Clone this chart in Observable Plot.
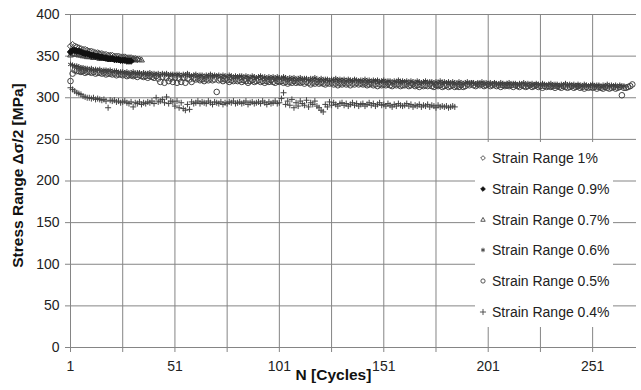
<!DOCTYPE html>
<html>
<head>
<meta charset="utf-8">
<script src="https://cdn.jsdelivr.net/npm/d3@7"></script>
<script src="https://cdn.jsdelivr.net/npm/@observablehq/plot@0.6"></script>
<style>
  html, body { margin: 0; padding: 0; background: #fff; }
  #wrap { position: relative; width: 641px; height: 390px; font-family: "Liberation Sans", Arial, sans-serif; }
  #legend { position: absolute; left: 475px; top: 142px; width: 138px; height: 185px; background: #fff; }
  #legend .row { position: absolute; left: 0; height: 20px; display: flex; align-items: center; font-size: 14px; color: #222; white-space: nowrap; }
  #legend svg { width: 10px; height: 10px; margin-left: 3px; margin-right: 4px; overflow: visible; }
</style>
</head>
<body>
<div id="wrap"><div id="legend"></div></div>
<script>
// Series names (legend labels)
const seriesNames = ["Strain Range 1%", "Strain Range 0.9%", "Strain Range 0.7%", "Strain Range 0.6%", "Strain Range 0.5%", "Strain Range 0.4%"];

// Stress range values per cycle N = 1, 2, 3, ... (MPa)
const s1 = [362,364,362,361,360,359,358,358,357,356,356,355,354,354,353,353,352,352,351,351,351,350,350,350,349,349,349,348,348,348,347,347,346];

const s09 = [355,357,357,356,356,355,354,353,353,352,351,351,350,350,349,349,348,348,347,347,347,346,346,346,345,345,345,344,344,344];

const s07 = [351,353,352,352,351,351,350,350,349,349,349,348,348,348,347,347,347,347,346,346,346,346,346,345,345,345,345,345,345,345,346,345,346,346,345];

const s06 = [
340,339,338,338,337,336,336,335,335,334,
335,333,334,333,334,332,333,333,332,333,
331,332,332,330,331,331,330,331,329,330,
331,329,330,330,328,330,329,329,330,328,
329,328,329,327,329,328,329,327,328,328,
327,328,328,326,328,327,329,327,326,327,
328,326,327,327,325,327,326,328,326,327,
326,327,325,327,326,325,327,326,324,326,
325,326,326,324,326,325,324,326,325,324,
325,326,324,325,323,325,324,325,323,325,
324,323,325,324,322,324,323,324,322,323,
324,322,323,323,321,323,322,324,322,321,
323,321,322,322,320,322,321,323,321,322,
321,322,320,322,321,320,322,321,320,321,
320,322,320,321,319,321,320,321,319,320,
321,319,320,320,318,320,319,321,319,320,
319,320,318,320,319,318,320,319,318,319,
320,318,319,319,317,319,318,320,318,319,
318,319,317,319,318,317,319,318,317,318,
319,317,318,318,316,318,317,319,317,318,
317,318,316,318,317,316,318,317,316,317,
318,316,317,317,315,317,316,318,316,317,
316,317,315,317,316,315,317,316,315,316,
317,315,316,316,314,316,315,317,315,316,
315,316,314,316,315,314,316,315,314,315,
316,314,315,315,313,315,314,316,314,315,
314,315,313,315,314,314];

const s05 = [
320,329,333,332,332,331,332,330,331,331,
330,331,329,330,330,329,330,328,329,329,
328,329,327,328,328,327,328,326,327,327,
326,327,325,327,326,325,326,324,326,325,
324,326,323,319,325,318,324,320,323,319,
324,318,323,319,324,318,323,322,319,323,
322,323,321,322,320,322,321,323,321,322,
307,321,322,320,322,321,319,321,320,322,
320,321,319,321,320,318,320,321,319,320,
321,319,320,318,320,319,321,319,318,320,
319,320,318,319,317,319,318,320,318,319,
318,319,317,319,318,316,318,317,319,317,
318,317,316,318,317,318,316,317,315,317,
316,318,316,317,315,317,316,318,316,317,
316,317,315,316,317,315,316,314,316,315,
316,315,317,315,314,316,315,316,314,315,
315,316,314,315,316,314,315,313,315,314,
315,314,316,314,313,315,314,315,313,314,
315,313,314,315,313,314,313,315,313,314,
316,315,317,315,314,316,315,316,314,315,
316,314,315,316,314,315,313,315,314,315,
314,315,313,315,314,313,315,314,313,314,
315,313,314,315,313,314,312,314,313,314,
313,314,312,314,313,312,314,313,312,313,
314,312,313,314,312,313,311,313,312,313,
312,313,311,313,312,311,313,312,311,312,
313,311,312,313,303,312,312,313,314,316];

const s04 = [
312,310,308,306,305,304,302,301,300,300,
299,300,298,299,298,297,298,296,288,297,
296,297,295,296,294,295,296,294,293,295,
289,294,293,295,292,294,293,295,294,296,
293,300,295,296,298,294,301,293,296,295,
290,296,288,294,287,285,292,286,295,293,
294,296,293,295,294,293,296,294,292,295,
294,293,295,292,294,293,295,294,296,293,
294,295,293,294,296,292,294,295,293,294,
295,293,296,294,292,295,293,294,296,293,
294,299,306,292,296,291,298,288,294,290,
296,293,291,297,289,294,292,296,290,288,
285,283,292,289,295,291,294,292,290,293,
294,291,293,290,292,294,291,293,290,292,
293,290,292,294,291,293,290,292,294,291,
292,290,293,291,289,292,290,293,291,290,
291,293,290,292,289,291,290,292,289,291,
290,292,289,291,290,288,291,289,290,289,
290,288,289,290,289];

// Axis ticks
const yTicks = [0, 50, 100, 150, 200, 250, 300, 350, 400];
const xGridTicks = [1, 26, 51, 76, 101, 126, 151, 176, 201, 226, 251];
const xLabelTicks = [1, 51, 101, 151, 201, 251];

const seriesValues = [s1, s09, s07, s06, s05, s04];
const symbols = [d3.symbolDiamond2, d3.symbolDiamond2, d3.symbolTriangle2, d3.symbolAsterisk, d3.symbolCircle, d3.symbolPlus];
const styles = [
  {fill: "none", stroke: "#444", r: 2.8},
  {fill: "#111", stroke: "#111", r: 2.9},
  {fill: "none", stroke: "#444", r: 2.8},
  {fill: "none", stroke: "#3a3a3a", r: 2.6},
  {fill: "none", stroke: "#444", r: 2.8},
  {fill: "none", stroke: "#444", r: 2.1}
];

const tables = seriesValues.map((vals, k) => vals.map((v, i) => ({n: i + 1, v, s: seriesNames[k]})));
// drawing order: filled 0.9% markers on top of the open markers of the upper cluster
const drawOrder = [0, 2, 1, 3, 4, 5];

const gridColor = "#858585";

const chart = Plot.plot({
  width: 641,
  height: 390,
  marginLeft: 70,
  marginRight: 5,
  marginTop: 14,
  marginBottom: 43,
  style: {fontFamily: "'Liberation Sans', Arial, sans-serif", fontSize: "14px", color: "#222", background: "#fff", overflow: "visible"},
  x: {domain: [1, 272]},
  y: {domain: [0, 400]},
  marks: [
    Plot.gridX(xGridTicks, {stroke: gridColor, strokeOpacity: 1, strokeWidth: 1}),
    Plot.gridY(yTicks, {stroke: gridColor, strokeOpacity: 1, strokeWidth: 1}),
    Plot.axisX(xGridTicks, {tickSize: 5, tickFormat: () => "", stroke: gridColor, label: null}),
    Plot.axisX(xLabelTicks, {tickSize: 0, tickPadding: 14, label: null, fill: "#222"}),
    Plot.axisY(yTicks, {tickSize: 5, tickPadding: 6, stroke: gridColor, label: null, fill: "#222"}),
    ...drawOrder.map((k) => Plot.dot(tables[k], {
      x: "n", y: "v",
      symbol: symbols[k],
      fill: styles[k].fill, stroke: styles[k].stroke, r: styles[k].r, strokeWidth: 1
    })),
    Plot.text(["N [Cycles]"], {frameAnchor: "bottom", dx: -20, dy: 32, fontWeight: "bold", fontSize: 15.5, fill: "#111"}),
    Plot.text(["Stress Range Δσ/2 [MPa]"], {frameAnchor: "left", textAnchor: "middle", rotate: -90, dx: -52, dy: -5.5, fontWeight: "bold", fontSize: 15.5, fill: "#111"})
  ]
});

document.getElementById("wrap").prepend(chart);

// Legend (overlay box inside the plot area)
const legend = document.getElementById("legend");
seriesNames.forEach((name, k) => {
  const row = document.createElement("div");
  row.className = "row";
  row.style.top = (6 + k * 30.8) + "px";
  const ns = "http://www.w3.org/2000/svg";
  const svg = document.createElementNS(ns, "svg");
  svg.setAttribute("viewBox", "-5 -5 10 10");
  const path = document.createElementNS(ns, "path");
  path.setAttribute("d", d3.symbol(symbols[k], 14)());
  path.setAttribute("fill", styles[k].fill);
  path.setAttribute("stroke", styles[k].stroke);
  path.setAttribute("stroke-width", 0.9);
  svg.appendChild(path);
  row.appendChild(svg);
  const span = document.createElement("span");
  span.textContent = name;
  row.appendChild(span);
  legend.appendChild(row);
});
</script>
</body>
</html>
